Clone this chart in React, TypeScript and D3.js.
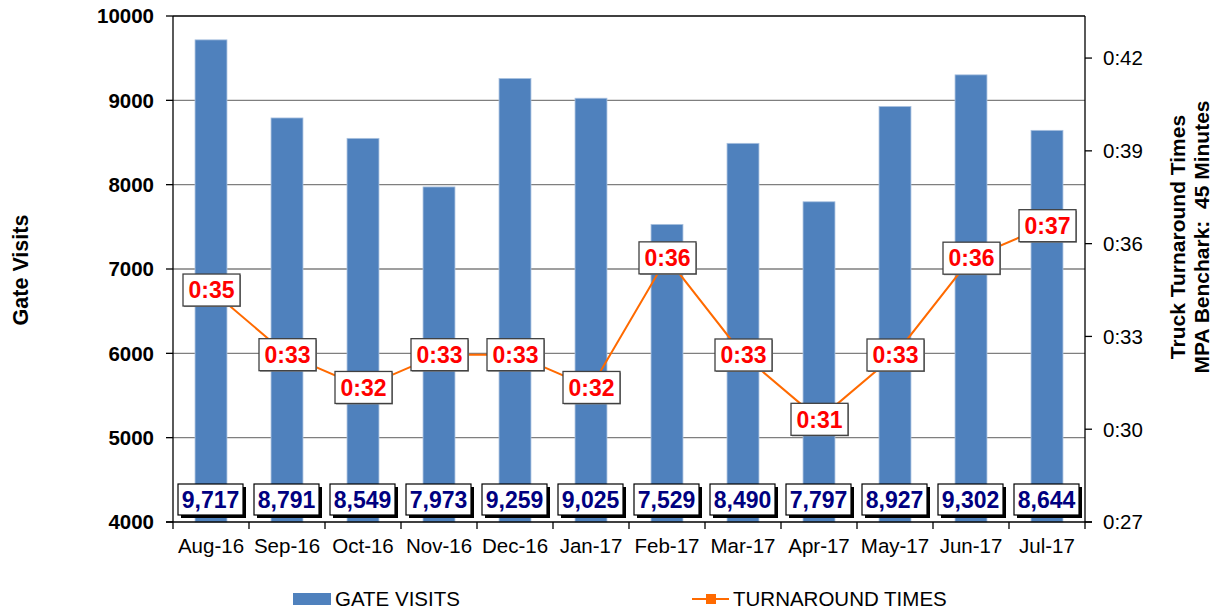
import * as d3 from "d3";

const months = ["Aug-16", "Sep-16", "Oct-16", "Nov-16", "Dec-16", "Jan-17", "Feb-17", "Mar-17", "Apr-17", "May-17", "Jun-17", "Jul-17"];
const gateVisits = [9717, 8791, 8549, 7973, 9259, 9025, 7529, 8490, 7797, 8927, 9302, 8644];
// turnaround times in minutes
const turnaround = [34.5, 32.41, 31.35, 32.41, 32.41, 31.35, 35.54, 32.4, 30.32, 32.4, 35.53, 36.58];
const turnaroundLabels = ["0:35", "0:33", "0:32", "0:33", "0:33", "0:32", "0:36", "0:33", "0:31", "0:33", "0:36", "0:37"];
const leftTicks = [4000, 5000, 6000, 7000, 8000, 9000, 10000];
const rightTicks = [27, 30, 33, 36, 39, 42];

const W = 1220;
const H = 613;
const M = { left: 173, right: 1085, top: 16, bottom: 522 };
const FONT = "Arial, 'Liberation Sans', sans-serif";
const BAR_COLOR = "#4F81BD";
const LINE_COLOR = "#FF6A00";

export default function App() {
  const x = d3.scaleBand<string>().domain(months).range([M.left, M.right]).padding(0);
  const barW = x.bandwidth() * 0.42;
  const cx = (m: string) => (x(m) ?? 0) + x.bandwidth() / 2;

  const yLeft = d3.scaleLinear().domain([4000, 10000]).range([M.bottom, M.top]);
  const yRight = d3.scaleLinear().domain([27, 43.36]).range([M.bottom, M.top]);

  const line = d3
    .line<number>()
    .x((_, i) => cx(months[i]))
    .y((d) => yRight(d));

  const fmtK = d3.format(",");

  return (
    <svg
      width={W}
      height={H}
      style={{ position: "absolute", left: 0, top: 0, fontFamily: FONT }}
    >
      <rect width={W} height={H} fill="#fff" />

      {/* gridlines */}
      {leftTicks.slice(1, -1).map((t) => (
        <line key={t} x1={M.left} x2={M.right} y1={yLeft(t)} y2={yLeft(t)} stroke="#7f7f7f" strokeWidth={1.3} />
      ))}
      <line x1={M.left} x2={M.right} y1={M.top} y2={M.top} stroke="#000" strokeWidth={1.3} />

      {/* bars */}
      {gateVisits.map((v, i) => (
        <rect
          key={months[i]}
          x={cx(months[i]) - barW / 2}
          y={yLeft(v)}
          width={barW}
          height={M.bottom - yLeft(v)}
          fill={BAR_COLOR}
          stroke="#A9C1DF"
          strokeWidth={0.8}
        />
      ))}

      {/* axes */}
      <line x1={M.left} x2={M.left} y1={M.top} y2={M.bottom} stroke="#000" strokeWidth={1.3} />
      <line x1={M.right} x2={M.right} y1={M.top} y2={M.bottom} stroke="#000" strokeWidth={1.3} />
      <line x1={M.left - 7} x2={M.right + 7} y1={M.bottom} y2={M.bottom} stroke="#000" strokeWidth={1.3} />

      {leftTicks.map((t) => (
        <g key={t} transform={`translate(${M.left},${yLeft(t)})`}>
          <line x1={-7} x2={0} stroke="#000" strokeWidth={1.3} />
          <text x={-19} dy="0.36em" textAnchor="end" fontSize={20.5} fontWeight="bold">
            {t}
          </text>
        </g>
      ))}

      {rightTicks.map((t) => (
        <g key={t} transform={`translate(${M.right},${yRight(t)})`}>
          <line x1={0} x2={7} stroke="#000" strokeWidth={1.3} />
          <text x={18} dy="0.36em" fontSize={20.5}>
            0:{t}
          </text>
        </g>
      ))}

      {months.map((m) => (
        <line key={m} x1={x(m)} x2={x(m)} y1={M.bottom} y2={M.bottom + 7} stroke="#000" strokeWidth={1.3} />
      ))}
      <line x1={M.right} x2={M.right} y1={M.bottom} y2={M.bottom + 7} stroke="#000" strokeWidth={1.3} />

      {months.map((m) => (
        <text key={m} x={cx(m)} y={553} textAnchor="middle" fontSize={20.5}>
          {m}
        </text>
      ))}

      {/* axis titles */}
      <text transform="translate(20,270) rotate(-90)" textAnchor="middle" dy="0.36em" fontSize={21.5} fontWeight="bold">
        Gate Visits
      </text>
      <text transform="translate(1177,237) rotate(-90)" textAnchor="middle" dy="0.36em" fontSize={21} fontWeight="bold">
        Truck Turnaround Times
      </text>
      <text
        transform="translate(1201,237) rotate(-90)"
        textAnchor="middle"
        dy="0.36em"
        fontSize={21}
        fontWeight="bold"
        style={{ whiteSpace: "pre" }}
      >
        {"MPA Benchark:  45 Minutes"}
      </text>

      {/* turnaround line */}
      <path d={line(turnaround) ?? undefined} fill="none" stroke={LINE_COLOR} strokeWidth={2} />

      {turnaround.map((v, i) => {
        const px = cx(months[i]);
        const py = yRight(v);
        return (
          <g key={months[i]} transform={`translate(${px},${py})`}>
            <rect x={-27} y={-15} width={57} height={32} fill="#8a8a8a" />
            <rect x={-28} y={-16} width={57} height={32} fill="#fff" stroke="#404040" strokeWidth={1.3} />
            <text x={0.5} dy="0.36em" textAnchor="middle" fontSize={23} fontWeight="bold" fill="#FF0000">
              {turnaroundLabels[i]}
            </text>
          </g>
        );
      })}

      {/* bar value labels at base */}
      {gateVisits.map((v, i) => {
        const px = cx(months[i]);
        return (
          <g key={months[i]} transform={`translate(${px},500)`}>
            <rect x={-30} y={-13} width={65} height={31} fill="#000" />
            <rect x={-33} y={-16} width={65} height={31} fill="#fff" stroke="#000" strokeWidth={1.2} />
            <text x={-0.5} dy="0.36em" textAnchor="middle" fontSize={23} fontWeight="bold" fill="#000080">
              {fmtK(v)}
            </text>
          </g>
        );
      })}

      {/* legend */}
      <rect x={293} y={593} width={38} height={12} fill={BAR_COLOR} />
      <text x={335} y={599} dy="0.36em" fontSize={20.5}>
        GATE VISITS
      </text>
      <line x1={692} x2={729} y1={599} y2={599} stroke={LINE_COLOR} strokeWidth={2} />
      <rect x={706} y={594} width={10} height={10} fill={LINE_COLOR} />
      <text x={733} y={599} dy="0.36em" fontSize={20.5}>
        TURNAROUND TIMES
      </text>
    </svg>
  );
}
